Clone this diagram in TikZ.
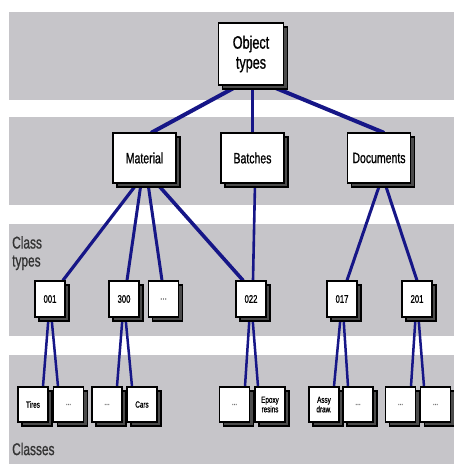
\documentclass[tikz,border=0pt]{standalone}
\usepackage{fontspec}
\newfontfamily\chartfont[FakeStretch=0.7,FakeBold=0.8]{Liberation Sans}
\usepackage{tikz}
\usetikzlibrary{shadows}

\definecolor{bandgray}{RGB}{198,197,201}
\definecolor{linkblue}{RGB}{22,22,135}

\pgfdeclarelayer{bands}
\pgfdeclarelayer{links}
\pgfsetlayers{bands,links,main}

\tikzset{
  box/.style={draw=black,line width=1.3pt,fill=white,inner sep=0pt,align=center,
    drop shadow={shadow xshift=4pt,shadow yshift=-4pt,fill=black!70,draw=black,opacity=1}},
  topbox/.style={box,minimum width=65pt,minimum height=62pt,font=\chartfont\fontsize{18}{20}\selectfont},
  typebox/.style={box,minimum width=63pt,minimum height=50pt,font=\chartfont\fontsize{15}{17}\selectfont},
  ctbox/.style={box,minimum width=30pt,minimum height=36pt,font=\chartfont\fontsize{11}{12}\selectfont},
  clbox/.style={box,minimum width=30pt,minimum height=35pt,font=\chartfont\fontsize{9}{9.5}\selectfont},
  link/.style={draw=linkblue,line cap=round},
  rowlabel/.style={inner sep=0pt,align=left,text=black!80,font=\chartfont\fontsize{17}{18}\selectfont}
}
\newcommand{\more}{\textcolor{black!55}{...}}

\begin{document}
\begin{tikzpicture}[x=1pt,y=-1pt]
\useasboundingbox (0,0) rectangle (454,464);

% Bands
\begin{pgfonlayer}{bands}
\fill[white] (0,0) rectangle (454,464);
\fill[bandgray] (9,12) rectangle (454,100);
\fill[bandgray] (9,117) rectangle (454,205);
\fill[bandgray] (9,224) rectangle (454,336);
\fill[bandgray] (9,355) rectangle (454,464);
\end{pgfonlayer}

% Object types and types
\node[topbox] (obj) at (251,54) {Object\\types};
\node[typebox] (mat) at (144.5,158) {Material};
\node[typebox] (bat) at (252.5,158) {Batches};
\node[typebox] (doc) at (379,158) {Documents};

% Class types
\node[ctbox] (c001) at (50,299) {001};
\node[ctbox] (c300) at (124,299) {300};
\node[ctbox] (cmore) at (163.5,299) {\more};
\node[ctbox] (c022) at (251,299) {022};
\node[ctbox] (c017) at (342,299) {017};
\node[ctbox] (c201) at (417,299) {201};

% Classes
\node[clbox] (tires) at (33,404.5) {Tires};
\node[clbox] (m1) at (68.5,404.5) {\more};
\node[clbox] (m2) at (107,404.5) {\more};
\node[clbox] (cars) at (142,404.5) {Cars};
\node[clbox] (m3) at (234.5,404.5) {\more};
\node[clbox] (epoxy) at (270,404.5) {Epoxy\\resins};
\node[clbox] (assy) at (324,404.5) {Assy\\draw.};
\node[clbox] (m4) at (358,404.5) {\more};
\node[clbox] (m5) at (400.5,404.5) {\more};
\node[clbox] (m6) at (435.5,404.5) {\more};

% Row labels
\node[rowlabel,anchor=north west] (lbltypes) at (12,236) {Class\\types};
\node[rowlabel,anchor=west] (lblclasses) at (12,449) {Classes};

% Links
\begin{pgfonlayer}{links}
\draw[link,line width=4pt] ([xshift=-13pt]obj.south) -- ([xshift=7.5pt]mat.north);
\draw[link,line width=3pt] (obj.south -| bat.north) -- (bat.north);
\draw[link,line width=4pt] ([xshift=19pt]obj.south) -- ([xshift=4pt]doc.north);

\draw[link,line width=3.2pt] ([xshift=-7.5pt]mat.south) -- ([xshift=13pt]c001.north);
\draw[link,line width=3pt] ([xshift=-3.5pt]mat.south) -- ([xshift=3pt]c300.north);
\draw[link,line width=3pt] ([xshift=3.5pt]mat.south) -- ([xshift=-1.5pt]cmore.north);
\draw[link,line width=3.6pt] ([xshift=12.5pt]mat.south) -- ([xshift=-8pt]c022.north);
\draw[link,line width=2.6pt] ([xshift=2.5pt]bat.south) -- ([xshift=2pt]c022.north);
\draw[link,line width=3pt] ([xshift=1pt]doc.south) -- ([xshift=5pt]c017.north);
\draw[link,line width=3pt] ([xshift=6pt]doc.south) -- (c201.north);

\draw[link,line width=2.5pt] ([xshift=-1.5pt]c001.south) -- ([xshift=10pt]tires.north);
\draw[link,line width=2.5pt] ([xshift=1.5pt]c001.south) -- ([xshift=-10.5pt]m1.north);
\draw[link,line width=2.5pt] ([xshift=-1.5pt]c300.south) -- ([xshift=10pt]m2.north);
\draw[link,line width=2.5pt] ([xshift=1.5pt]c300.south) -- ([xshift=-10pt]cars.north);
\draw[link,line width=2.5pt] ([xshift=-1.5pt]c022.south) -- ([xshift=10.5pt]m3.north);
\draw[link,line width=2.5pt] ([xshift=1.5pt]c022.south) -- ([xshift=-12pt]epoxy.north);
\draw[link,line width=2.5pt] ([xshift=-1.5pt]c017.south) -- ([xshift=10pt]assy.north);
\draw[link,line width=2.5pt] ([xshift=1.5pt]c017.south) -- ([xshift=-10pt]m4.north);
\draw[link,line width=2.5pt] ([xshift=-1.5pt]c201.south) -- ([xshift=10.5pt]m5.north);
\draw[link,line width=2.5pt] ([xshift=1.5pt]c201.south) -- ([xshift=-11.5pt]m6.north);
\end{pgfonlayer}
\end{tikzpicture}
\end{document}
